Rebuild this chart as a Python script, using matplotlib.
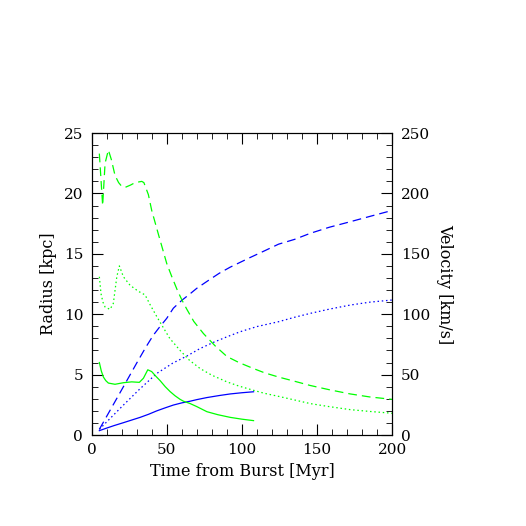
import matplotlib
matplotlib.use("Agg")
import matplotlib.pyplot as plt
from matplotlib.ticker import MultipleLocator

# Time [Myr] / Radius [kpc]
t_rs = [5.2, 10, 15, 21.2, 27, 32.3, 38, 43.4, 49, 54.4, 60, 65.6, 70, 76.7, 85, 92.2, 100, 107.7]
r_solid = [0.36, 0.57, 0.78, 1.02, 1.25, 1.46, 1.72, 2.0, 2.25, 2.48, 2.66, 2.8, 2.93, 3.1, 3.27, 3.4, 3.5, 3.58]

t_rd = [5.2, 21.2, 30, 36, 41, 45, 50, 54.4, 60, 65.6, 70, 78.9, 85, 92.2, 105.5, 115, 124.3,
        135, 145.4, 158, 172, 185, 200]
r_dashed = [0.47, 4.0, 5.95, 7.25, 8.25, 8.9, 9.66, 10.5, 11.15, 11.7, 12.15, 12.9, 13.4, 13.9,
            14.7, 15.25, 15.8, 16.2, 16.7, 17.2, 17.66, 18.1, 18.6]

t_rt = [5.2, 13, 21.2, 32, 43.4, 54, 63.4, 72, 81, 90, 98.8, 110, 124.3, 135, 145.4, 158, 172, 185, 200]
r_dotted = [0.47, 1.45, 2.48, 3.8, 5.1, 5.95, 6.54, 7.15, 7.67, 8.13, 8.55, 8.98, 9.38, 9.75,
            10.07, 10.42, 10.76, 11.0, 11.18]

# Time [Myr] / Velocity [km/s]
t_vs = [5.2, 6.5, 7.9, 9.5, 11.2, 15.6, 21.2, 26.7, 31.8, 34.5, 37.4, 40.0, 42.5, 45.6, 49, 52.2,
        55.5, 58.9, 61.1, 65.6, 70, 76.7, 84, 92.2, 100, 107.7]
v_solid = [60, 53, 48, 45, 43, 42, 43.3, 44, 43.6, 47, 54, 52.5, 49, 45, 40, 36,
           32.5, 29.5, 28, 26, 23.5, 19.3, 16.8, 14.6, 13.1, 11.9]

t_vd = [5.2, 7.4, 9.0, 11.2, 13.2, 15.6, 18, 20.0, 22.3, 26, 29.0, 33.4, 34.8, 37.8, 40.0, 44.5,
        50, 53.4, 57, 60.0, 63.4, 68, 74.4, 82, 90.0, 98, 107.7, 115, 124.3, 135, 145.4, 158,
        172.0, 185, 200.0]
v_dashed = [233, 190, 225, 236, 228, 215, 209, 206, 205, 207, 209, 210, 209, 199, 186, 166,
            142, 131, 120, 112, 104, 94, 84, 74, 65, 60, 55, 51.5, 48, 44.5, 41, 37.5,
            34, 31.5, 29.5]

t_vt = [5.2, 6.3, 7.6, 9.0, 12.3, 14.5, 16.8, 18.5, 21.2, 25.6, 31.1, 35.6, 38.9, 43.4, 46.7,
        52, 58.9, 65, 72.2, 80, 90.0, 98, 107.7, 115, 124.3, 135, 145.4, 158, 172.0, 185, 200.0]
v_dotted = [131, 117, 110, 106, 104, 109, 131, 140, 131, 124, 119, 116, 108, 98, 91,
            80, 70, 62, 55, 49.5, 44, 40.5, 37, 34.5, 32, 29, 26, 23.5, 21, 19.5, 18]

plt.rcParams['font.family'] = ['DejaVu Serif']
fig = plt.figure(figsize=(5.26, 5.26), dpi=100)
ax = fig.add_axes([0.174, 0.173, 0.572, 0.574])
ax2 = ax.twinx()

blue = '#0000ff'
green = '#00ff00'
lw = 0.9
ax.plot(t_rs, r_solid, color=blue, lw=lw)
ax.plot(t_rd, r_dashed, color=blue, lw=lw, dashes=(7, 4))
ax.plot(t_rt, r_dotted, color=blue, lw=lw, dashes=(1.2, 2.2))
ax2.plot(t_vs, v_solid, color=green, lw=lw)
ax2.plot(t_vd, v_dashed, color=green, lw=lw, dashes=(7, 4))
ax2.plot(t_vt, v_dotted, color=green, lw=lw, dashes=(1.2, 2.2))

ax.set_xlim(0, 200)
ax.set_ylim(0, 25)
ax2.set_ylim(0, 250)

ax.xaxis.set_major_locator(MultipleLocator(50))
ax.xaxis.set_minor_locator(MultipleLocator(10))
ax.yaxis.set_major_locator(MultipleLocator(5))
ax.yaxis.set_minor_locator(MultipleLocator(1))
ax2.yaxis.set_major_locator(MultipleLocator(50))
ax2.yaxis.set_minor_locator(MultipleLocator(10))

ax.tick_params(which='both', direction='in', top=True, right=False, labelsize=11, pad=6)
ax.tick_params(which='major', length=8)
ax.tick_params(which='minor', length=4)
ax2.tick_params(which='both', direction='in', labelsize=11, pad=6)
ax2.tick_params(which='major', length=8)
ax2.tick_params(which='minor', length=4)

ax.set_xlabel('Time from Burst [Myr]', fontsize=11.5, labelpad=4)
ax.set_ylabel('Radius [kpc]', fontsize=11.5, labelpad=5)
ax2.set_ylabel('Velocity [km/s]', fontsize=11.5, rotation=270, labelpad=17)

fig.savefig('out.png', dpi=100)
